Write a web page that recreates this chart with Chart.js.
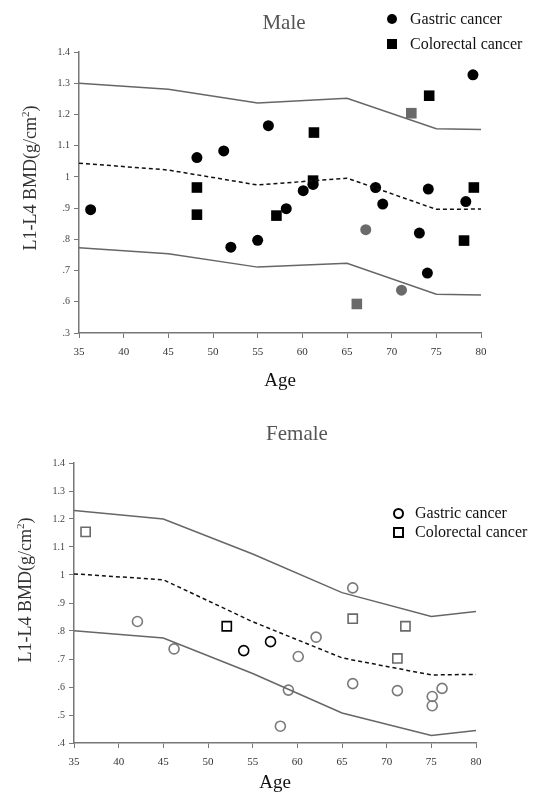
<!DOCTYPE html>
<html>
<head>
<meta charset="utf-8">
<script src="https://cdn.jsdelivr.net/npm/chart.js@4.4.1/dist/chart.umd.min.js"></script>
<style>
  body { margin: 0; background: #fff; font-family: "Liberation Serif", serif; }
  #page { position: relative; width: 547px; height: 794px; overflow: hidden; }
  .box { position: absolute; left: 0; width: 547px; }
  .title { position: absolute; transform: translate(-50%, -50%); font-size: 21px; color: #555; white-space: nowrap; }
  .ylab { position: absolute; transform: translate(-50%, -50%) rotate(-90deg); font-size: 18px; color: #333; white-space: nowrap; }
  .ylab sup { font-size: 11px; }
  .leg { position: absolute; font-size: 16px; color: #111; white-space: nowrap; line-height: 18px; }
  .mk { display: inline-block; position: absolute; }
</style>
</head>
<body>
<div id="page">
  <div class="box" style="top:0;height:400px"><canvas id="maleChart"></canvas></div>
  <div class="box" style="top:400px;height:394px"><canvas id="femaleChart"></canvas></div>

  <div class="title" style="left:284px;top:22px">Male</div>
  <div class="ylab" style="left:30px;top:178px">L1-L4 BMD(g/cm<sup>2</sup>)</div>
  <div class="leg" style="left:410px;top:10px">Gastric cancer</div>
  <div class="leg" style="left:410px;top:35px">Colorectal cancer</div>
  <span class="mk" style="left:387px;top:14px;width:10px;height:10px;border-radius:50%;background:#000"></span>
  <span class="mk" style="left:387px;top:39px;width:10px;height:10px;background:#000"></span>

  <div class="title" style="left:297px;top:433px">Female</div>
  <div class="ylab" style="left:25px;top:590px">L1-L4 BMD(g/cm<sup>2</sup>)</div>
  <div class="leg" style="left:415px;top:504px">Gastric cancer</div>
  <div class="leg" style="left:415px;top:523px">Colorectal cancer</div>
  <span class="mk" style="left:393px;top:508px;width:7px;height:7px;border-radius:50%;border:2px solid #000"></span>
  <span class="mk" style="left:393px;top:527px;width:7px;height:7px;border:2px solid #000"></span>
</div>

<script>
// reference curves (mean and +/- 2SD), same ages for both sexes
const refAges = [35, 45, 55, 65, 75, 80];

const maleUpper = [1.30, 1.281, 1.237, 1.252, 1.154, 1.152];
const maleMean  = [1.044, 1.022, 0.974, 0.996, 0.896, 0.897];
const maleLower = [0.773, 0.754, 0.711, 0.723, 0.624, 0.622];

const femaleUpper = [1.23, 1.20, 1.075, 0.937, 0.852, 0.87];
const femaleMean  = [1.004, 0.983, 0.833, 0.704, 0.643, 0.645];
const femaleLower = [0.801, 0.775, 0.648, 0.507, 0.427, 0.445];

// patients
const maleGastricAge = [36.3, 48.2, 51.2, 56.2, 79.1, 52.0, 55.0, 58.2, 60.1, 61.2, 68.2, 69.0, 67.1, 71.1, 73.1, 74.1, 74.0, 78.3];
const maleGastricBmd = [0.895, 1.062, 1.083, 1.164, 1.327, 0.775, 0.797, 0.898, 0.956, 0.976, 0.966, 0.913, 0.831, 0.637, 0.82, 0.961, 0.692, 0.921];
const maleColorectalAge = [48.2, 48.2, 57.1, 61.3, 61.2, 72.2, 74.2, 79.2, 78.1, 66.1];
const maleColorectalBmd = [0.966, 0.879, 0.876, 1.142, 0.988, 1.204, 1.26, 0.966, 0.796, 0.593];

const femaleGastricAge = [42.1, 46.2, 54.0, 57.0, 60.1, 62.1, 59.0, 58.1, 66.2, 66.2, 71.2, 75.1, 75.1, 76.2];
const femaleGastricBmd = [0.834, 0.736, 0.730, 0.762, 0.709, 0.778, 0.589, 0.46, 0.612, 0.954, 0.587, 0.566, 0.533, 0.595];
const femaleColorectalAge = [36.3, 52.1, 66.2, 72.1, 71.2];
const femaleColorectalBmd = [1.154, 0.817, 0.844, 0.817, 0.702];

// tick labels as printed (bottom to top)
const maleYLabels = [".3", ".6", ".7", ".8", ".9", "1", "1.1", "1.2", "1.3", "1.4"];
const femaleYLabels = [".4", ".5", ".6", ".7", ".8", ".9", "1", "1.1", "1.2", "1.3", "1.4"];

/* ================= HELPERS ================= */

const pts = (xs, ys) => xs.map((x, i) => ({ x: x, y: ys[i] }));

// points printed in a lighter grey in the scan
const maleGreyGastric = [12, 13];
const maleGreyColorectal = [5, 9];
const femaleBlackGastric = [2, 3];
const femaleBlackColorectal = [1];

const AXIS = "#777";
const FONT = "Liberation Serif";

function refLines(upper, mean, lower) {
    const solid = { type: "line", borderColor: "#666", borderWidth: 1.5, pointRadius: 0, fill: false, tension: 0 };
    return [
        Object.assign({ data: pts(refAges, upper) }, solid),
        { type: "line", data: pts(refAges, mean), borderColor: "#111", borderWidth: 1.5,
          borderDash: [4, 3], pointRadius: 0, fill: false, tension: 0 },
        Object.assign({ data: pts(refAges, lower) }, solid)
    ];
}

function makeScales(yMin, yLabels, xTitlePad, yWidth, xHeight) {
    return {
        x: {
            type: "linear", min: 35, max: 80,
            afterFit: s => { s.height = xHeight; },
            ticks: { stepSize: 5, padding: 8, color: "#333", font: { family: FONT, size: 11 } },
            grid: { drawOnChartArea: false, drawTicks: true, tickLength: 5, color: AXIS },
            border: { display: true, color: AXIS, width: 1.5 },
            title: { display: true, text: "Age", color: "#111", font: { family: FONT, size: 19 },
                     padding: { top: 0, bottom: xTitlePad } }
        },
        y: {
            type: "linear", min: yMin, max: 1.4,
            afterFit: s => { s.width = yWidth; },
            ticks: { stepSize: 0.1, padding: 4, color: "#444", font: { family: FONT, size: 10 },
                     callback: (v, i) => yLabels[i] },
            grid: { drawOnChartArea: false, drawTicks: true, tickLength: 5, color: AXIS },
            border: { display: true, color: AXIS, width: 1.5 }
        }
    };
}

const commonPlugins = { legend: { display: false }, tooltip: { enabled: false } };

/* ================= CHARTS ================= */

function renderMaleChart() {
    new Chart(document.getElementById("maleChart"), {
        type: "scatter",
        data: {
            datasets: [
                ...refLines(maleUpper, maleMean, maleLower),
                {
                    label: "Gastric cancer",
                    data: pts(maleGastricAge, maleGastricBmd),
                    pointStyle: "circle", pointRadius: 5.5, borderWidth: 0,
                    backgroundColor: ctx => maleGreyGastric.includes(ctx.dataIndex) ? "#6a6a6a" : "#000"
                },
                {
                    label: "Colorectal cancer",
                    data: pts(maleColorectalAge, maleColorectalBmd),
                    pointStyle: "rect", pointRadius: 7.5, borderWidth: 0,
                    backgroundColor: ctx => maleGreyColorectal.includes(ctx.dataIndex) ? "#6a6a6a" : "#000"
                }
            ]
        },
        options: {
            responsive: true, maintainAspectRatio: false, animation: false,
            layout: { padding: { left: 0, right: 66, top: 52, bottom: 0 } },
            scales: makeScales(0.5, maleYLabels, 8, 79, 67),
            plugins: commonPlugins
        }
    });
}

function renderFemaleChart() {
    new Chart(document.getElementById("femaleChart"), {
        type: "scatter",
        data: {
            datasets: [
                ...refLines(femaleUpper, femaleMean, femaleLower),
                {
                    label: "Gastric cancer",
                    data: pts(femaleGastricAge, femaleGastricBmd),
                    pointStyle: "circle", pointRadius: 5, borderWidth: 1.6, backgroundColor: "rgba(0,0,0,0)",
                    borderColor: ctx => femaleBlackGastric.includes(ctx.dataIndex) ? "#000" : "#7a7a7a"
                },
                {
                    label: "Colorectal cancer",
                    data: pts(femaleColorectalAge, femaleColorectalBmd),
                    pointStyle: "rect", pointRadius: 6.5, borderWidth: 1.6, backgroundColor: "rgba(0,0,0,0)",
                    borderColor: ctx => femaleBlackColorectal.includes(ctx.dataIndex) ? "#000" : "#6a6a6a"
                }
            ]
        },
        options: {
            responsive: true, maintainAspectRatio: false, animation: false,
            layout: { padding: { left: 0, right: 71, top: 63, bottom: 0 } },
            scales: makeScales(0.4, femaleYLabels, 0, 74, 51),
            plugins: commonPlugins
        }
    });
}

/* ================= START ================= */

renderMaleChart();
renderFemaleChart();
</script>
</body>
</html>
